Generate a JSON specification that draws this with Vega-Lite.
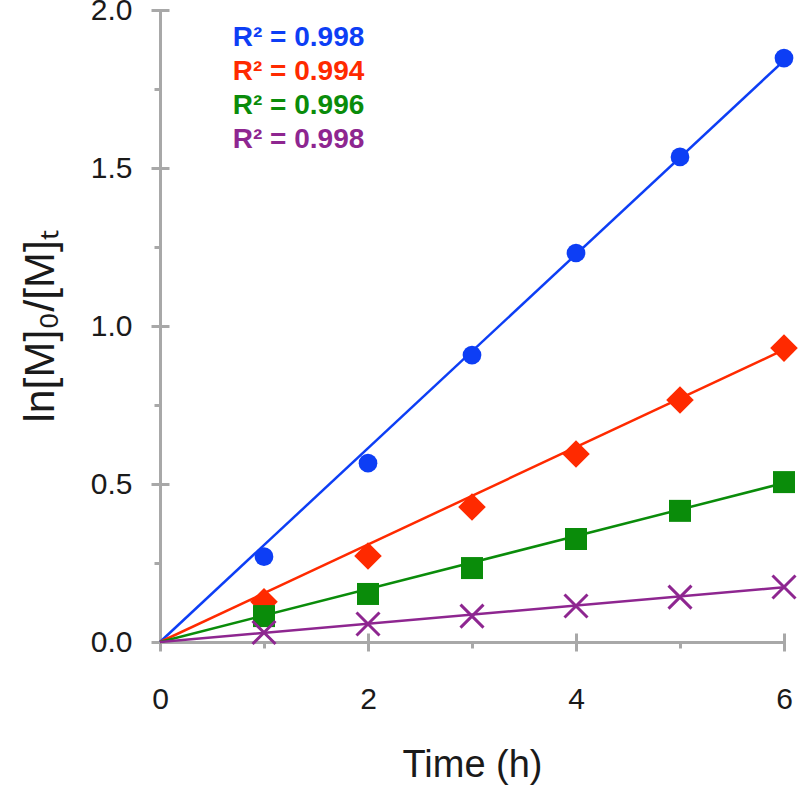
{
  "$schema": "https://vega.github.io/schema/vega-lite/v6.json",
  "width": 624,
  "height": 632,
  "autosize": {"type": "none"},
  "padding": {"left": 160, "top": 10, "right": 16, "bottom": 152},
  "background": "white",
  "config": {"view": {"stroke": null}},
  "datasets": {
    "obs": [
      {"series": "A", "time": 1, "value": 0.27},
      {"series": "A", "time": 2, "value": 0.566},
      {"series": "A", "time": 3, "value": 0.908},
      {"series": "A", "time": 4, "value": 1.231},
      {"series": "A", "time": 5, "value": 1.535},
      {"series": "A", "time": 6, "value": 1.848},
      {"series": "B", "time": 1, "value": 0.127},
      {"series": "B", "time": 2, "value": 0.272},
      {"series": "B", "time": 3, "value": 0.427},
      {"series": "B", "time": 4, "value": 0.595},
      {"series": "B", "time": 5, "value": 0.766},
      {"series": "B", "time": 6, "value": 0.93},
      {"series": "C", "time": 1, "value": 0.082},
      {"series": "C", "time": 2, "value": 0.152},
      {"series": "C", "time": 3, "value": 0.234},
      {"series": "C", "time": 4, "value": 0.326},
      {"series": "C", "time": 5, "value": 0.415},
      {"series": "C", "time": 6, "value": 0.506},
      {"series": "D", "time": 1, "value": 0.03},
      {"series": "D", "time": 2, "value": 0.057},
      {"series": "D", "time": 3, "value": 0.082},
      {"series": "D", "time": 4, "value": 0.114},
      {"series": "D", "time": 5, "value": 0.142},
      {"series": "D", "time": 6, "value": 0.174}
    ],
    "fits": [
      {"series": "A", "time": 0, "value": 0},
      {"series": "A", "time": 6, "value": 1.84},
      {"series": "B", "time": 0, "value": 0},
      {"series": "B", "time": 6, "value": 0.925},
      {"series": "C", "time": 0, "value": 0},
      {"series": "C", "time": 6, "value": 0.503},
      {"series": "D", "time": 0, "value": 0},
      {"series": "D", "time": 6, "value": 0.173}
    ],
    "labels": [
      {"series": "A", "label": "R² = 0.998", "time": 0.7, "value": 1.911},
      {"series": "B", "label": "R² = 0.994", "time": 0.7, "value": 1.804},
      {"series": "C", "label": "R² = 0.996", "time": 0.7, "value": 1.696},
      {"series": "D", "label": "R² = 0.998", "time": 0.7, "value": 1.589}
    ]
  },
  "resolve": {"axis": {"x": "independent", "y": "independent"}},
  "layer": [
    {
      "data": {"name": "fits"},
      "mark": {"type": "line", "strokeWidth": 2.5},
      "encoding": {
        "x": {
          "field": "time", "type": "quantitative",
          "scale": {"domain": [0, 6], "nice": false, "zero": false},
          "axis": {
            "orient": "bottom",
            "domain": true, "domainColor": "#a8a8a8", "domainWidth": 3,
            "ticks": true, "tickColor": "#a8a8a8", "tickWidth": 3, "tickSize": 6,
            "values": [1, 3, 5], "labels": false, "title": null, "grid": false
          }
        },
        "y": {
          "field": "value", "type": "quantitative",
          "scale": {"domain": [0, 2], "nice": false, "zero": false},
          "axis": {
            "orient": "left",
            "domain": true, "domainColor": "#a8a8a8", "domainWidth": 3,
            "ticks": true, "tickColor": "#a8a8a8", "tickWidth": 3, "tickSize": 6,
            "values": [0.25, 0.75, 1.25, 1.75], "labels": false, "title": null, "grid": false
          }
        },
        "color": {
          "field": "series", "type": "nominal",
          "scale": {"domain": ["A", "B", "C", "D"], "range": ["#0d3ef5", "#ff2a00", "#0a8c0a", "#8e2690"]},
          "legend": null
        },
        "detail": {"field": "series"}
      }
    },
    {
      "data": {"name": "obs"},
      "transform": [{"filter": "datum.series !== 'D'"}],
      "mark": {"type": "point", "filled": true, "opacity": 1},
      "encoding": {
        "x": {
          "field": "time", "type": "quantitative",
          "axis": {
            "orient": "bottom", "offset": -9,
            "domain": false, "ticks": true, "tickColor": "#a8a8a8", "tickWidth": 3, "tickSize": 18,
            "values": [0, 2, 4, 6], "format": "d", "labelFlush": false,
            "labelFont": "Liberation Sans", "labelFontSize": 30, "labelColor": "#1a1a1a", "labelPadding": 33,
            "title": "Time (h)", "titleFont": "Liberation Sans", "titleFontSize": 38, "titleFontWeight": "normal",
            "titleColor": "#1a1a1a", "titlePadding": 32, "grid": false
          }
        },
        "y": {
          "field": "value", "type": "quantitative",
          "axis": {
            "orient": "left", "offset": -9,
            "domain": false, "ticks": true, "tickColor": "#a8a8a8", "tickWidth": 3, "tickSize": 18,
            "values": [0, 0.5, 1, 1.5, 2], "format": ".1f", "labelFlush": false,
            "labelFont": "Liberation Sans", "labelFontSize": 30, "labelColor": "#1a1a1a", "labelPadding": 19,
            "title": "ln[M]₀/[M]ₜ", "titleFont": "Liberation Sans", "titleFontSize": 43, "titleFontWeight": "normal",
            "titleColor": "#1a1a1a", "titlePadding": 28, "grid": false
          }
        },
        "color": {"field": "series", "type": "nominal", "legend": null},
        "shape": {
          "field": "series", "type": "nominal",
          "scale": {"domain": ["A", "B", "C"], "range": ["circle", "diamond", "square"]},
          "legend": null
        },
        "size": {
          "field": "series", "type": "nominal",
          "scale": {"type": "ordinal", "domain": ["A", "B", "C"], "range": [350, 760, 484]},
          "legend": null
        }
      }
    },
    {
      "data": {"name": "obs"},
      "transform": [{"filter": "datum.series === 'D'"}],
      "mark": {"type": "point", "filled": false, "shape": "M-1,-1L1,1M-1,1L1,-1", "size": 529, "strokeWidth": 3, "opacity": 1},
      "encoding": {
        "x": {"field": "time", "type": "quantitative", "axis": null},
        "y": {"field": "value", "type": "quantitative", "axis": null},
        "color": {"field": "series", "type": "nominal", "legend": null}
      }
    },
    {
      "data": {"name": "labels"},
      "mark": {"type": "text", "align": "left", "baseline": "middle", "font": "Liberation Sans", "fontWeight": "bold", "fontSize": 28},
      "encoding": {
        "x": {"field": "time", "type": "quantitative", "axis": null},
        "y": {"field": "value", "type": "quantitative", "axis": null},
        "text": {"field": "label"},
        "color": {"field": "series", "type": "nominal", "legend": null}
      }
    }
  ]
}
